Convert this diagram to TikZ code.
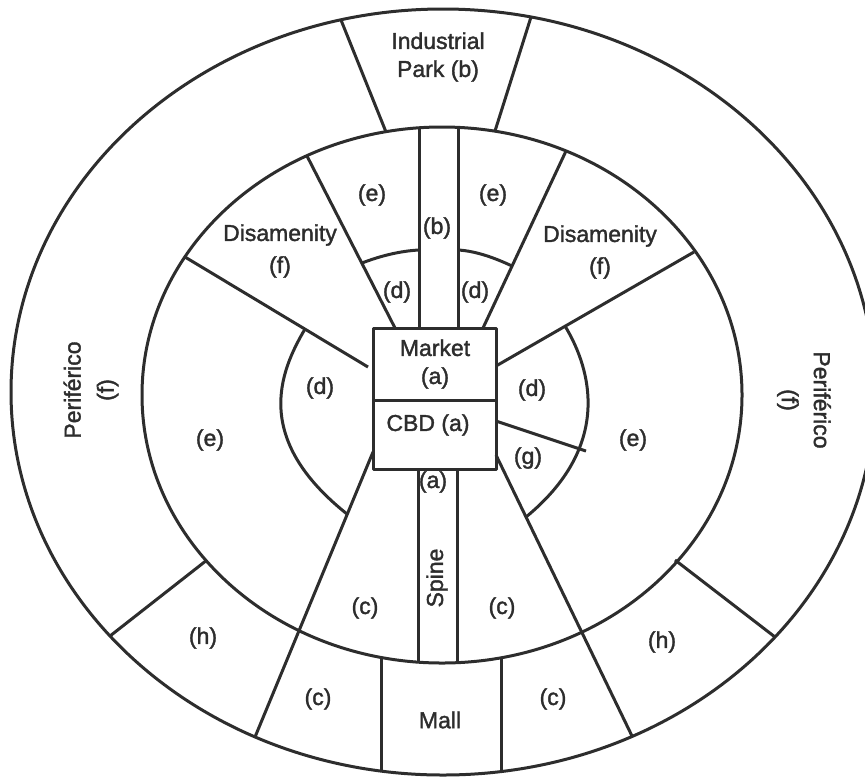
\documentclass[tikz,border=0pt]{standalone}
\usepackage{fontspec}
\setmainfont{Liberation Sans}
\newfontfamily\zonefont{Liberation Sans}[FakeBold=1.6]
\definecolor{InkGray}{RGB}{45,45,45}
\usetikzlibrary{positioning,calc}
\tikzset{wall/.style={line width=1.5pt,InkGray,line join=round}}
\tikzset{zone/.style={text=InkGray,inner sep=0pt,align=center,font=\zonefont\fontsize{11.5}{14}\selectfont}}
\tikzset{widezone/.style={zone,font=\zonefont\fontsize{11.5}{16}\selectfont}}

\begin{document}
\begin{tikzpicture}[x=0.5pt,y=-0.5pt]
    \useasboundingbox (0,0) rectangle (865,777);

    % rings and core
    \draw[wall] (443,392) ellipse [x radius=432, y radius=383];
    \draw[wall] (442,395) ellipse [x radius=300, y radius=268];
    \draw[wall] (373,328) rectangle (496,469);
    \draw[wall] (373,400) -- (496,400);

    % spoke end points
    \coordinate (parkL1) at (341,20);  \coordinate (parkL2) at (386,132);
    \coordinate (parkR1) at (531,17);  \coordinate (parkR2) at (495,131);
    \coordinate (bandL1) at (419,128); \coordinate (bandL2) at (419,328);
    \coordinate (bandR1) at (458,127); \coordinate (bandR2) at (458,328);
    \coordinate (edgeL1) at (307,156); \coordinate (edgeL2) at (395,328);
    \coordinate (edgeR1) at (566,151); \coordinate (edgeR2) at (483,328);
    \coordinate (disL1) at (185,257);  \coordinate (disL2) at (368,367);
    \coordinate (disR1) at (694,252);  \coordinate (disR2) at (496,366);
    \coordinate (gapR1) at (496,421);  \coordinate (gapR2) at (586,451);
    \coordinate (cutL1) at (373,452);  \coordinate (cutL2) at (255,737);
    \coordinate (cutR1) at (496,455);  \coordinate (cutR2) at (632,736);
    \coordinate (spineL1) at (418,469); \coordinate (spineL2) at (418,662);
    \coordinate (spineR1) at (457,469); \coordinate (spineR2) at (457,663);
    \coordinate (mallL1) at (381,658); \coordinate (mallL2) at (381,771);
    \coordinate (mallR1) at (501,658); \coordinate (mallR2) at (501,772);
    \coordinate (hubL1) at (207,560);  \coordinate (hubL2) at (110,636);
    \coordinate (hubR1) at (675,560);  \coordinate (hubR2) at (775,637);

    \foreach \a/\b in {parkL1/parkL2, parkR1/parkR2, bandL1/bandL2, bandR1/bandR2,
        edgeL1/edgeL2, edgeR1/edgeR2, disL1/disL2, disR1/disR2, gapR1/gapR2,
        cutL1/cutL2, cutR1/cutR2, spineL1/spineL2, spineR1/spineR2,
        mallL1/mallL2, mallR1/mallR2, hubL1/hubL2, hubR1/hubR2} {
        \draw[wall] (\a) -- (\b);
    }

    % inner ring pieces
    \draw[wall] (305,329) .. controls (279,373) and (253,439) .. (347,514);
    \draw[wall] (565,326) .. controls (585,359) and (619.5,440) .. (526,517);
    \draw[wall] (362,263) .. controls (380,256) and (400,251) .. (419,250);
    \draw[wall] (458,250) .. controls (476,251) and (495,258) .. (512,266);

    % labels
    \node[zone] (park) at (438,57) {Industrial\\Park (b)};
    \node[zone] (market) at (435,364) {Market\\(a)};
    \node[zone] (cbd) at (428,425) {CBD (a)};
    \node[widezone] (disL) at (280,251) {Disamenity\\(f)};
    \node[widezone] (disR) at (600,252) {Disamenity\\(f)};
    \node[zone] (mall) at (440,720) {Mall};
    \node[zone,rotate=90] (spine) at (437,578) {Spine};
    \node[zone,rotate=90,font=\zonefont\fontsize{11.5}{16.5}\selectfont] (periL) at (91,390) {Periférico\\(f)};
    \node[zone,rotate=-90,font=\zonefont\fontsize{11.5}{16}\selectfont] (periR) at (804,400) {Periférico\\(f)};

    \foreach \x/\y/\t in {
        372/195/e, 493/195/e, 437/228/b, 397/292/d, 475/292/d,
        320/388/d, 532/390/d, 528/458/g, 210/440/e, 633/440/e,
        433/482/a, 365/608/c, 502/608/c, 318/699/c, 553/699/c,
        203/638/h, 662/642/h} {
        \node[zone] (lbl-\x-\y) at (\x,\y) {(\t)};
    }
\end{tikzpicture}
\end{document}
